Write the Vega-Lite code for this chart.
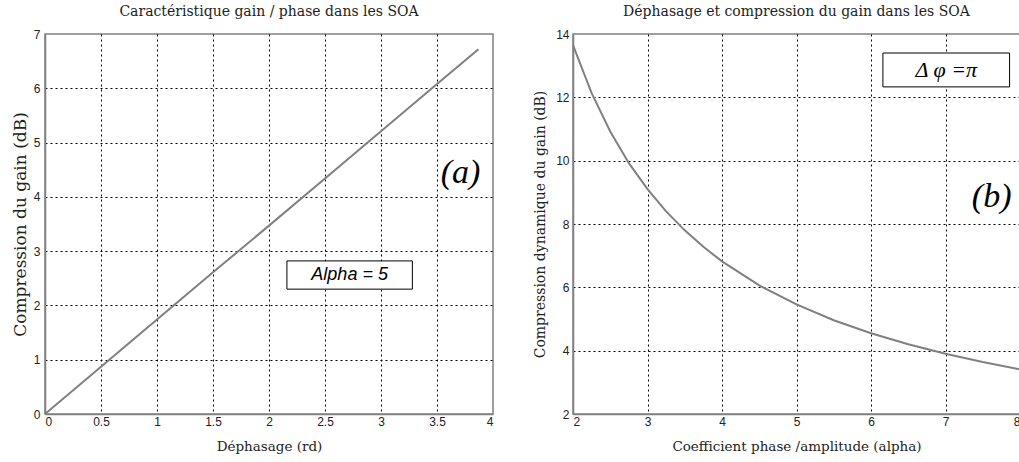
{
  "$schema": "https://vega.github.io/schema/vega-lite/v6.json",
  "background": "white",
  "padding": {"left": 10, "top": 4, "right": 0, "bottom": 0},
  "bounds": "flush",
  "spacing": 80,
  "config": {
    "view": {"stroke": "#808080", "strokeWidth": 1.5},
    "axis": {
      "grid": true,
      "gridColor": "#000000",
      "gridDash": [2, 3],
      "gridWidth": 1,
      "domainColor": "#808080",
      "domainWidth": 1.5,
      "ticks": false,
      "format": "~g",
      "labelFont": "Liberation Sans",
      "labelFontSize": 12,
      "labelColor": "#222222",
      "labelPadding": 4,
      "titleFont": "DejaVu Serif",
      "titleFontSize": 13.5,
      "titleFontWeight": "normal",
      "titleColor": "#222222"
    },
    "title": {"font": "DejaVu Serif", "fontSize": 14, "fontWeight": "normal", "color": "#222222", "offset": 9}
  },
  "datasets": {
    "gain": [
      {"phase": 0, "comp": 0},
      {"phase": 0.5, "comp": 0.87},
      {"phase": 1.0, "comp": 1.74},
      {"phase": 1.5, "comp": 2.61},
      {"phase": 2.0, "comp": 3.47},
      {"phase": 2.5, "comp": 4.34},
      {"phase": 3.0, "comp": 5.21},
      {"phase": 3.5, "comp": 6.08},
      {"phase": 3.87, "comp": 6.72}
    ],
    "alpha": [
      {"alpha": 2.0, "comp": 13.65},
      {"alpha": 2.25, "comp": 12.13},
      {"alpha": 2.5, "comp": 10.92},
      {"alpha": 2.75, "comp": 9.92},
      {"alpha": 3.0, "comp": 9.10},
      {"alpha": 3.25, "comp": 8.40},
      {"alpha": 3.5, "comp": 7.80},
      {"alpha": 3.75, "comp": 7.28},
      {"alpha": 4.0, "comp": 6.82},
      {"alpha": 4.5, "comp": 6.06},
      {"alpha": 5.0, "comp": 5.46},
      {"alpha": 5.5, "comp": 4.96},
      {"alpha": 6.0, "comp": 4.55},
      {"alpha": 6.5, "comp": 4.20},
      {"alpha": 7.0, "comp": 3.90},
      {"alpha": 7.5, "comp": 3.64},
      {"alpha": 8.0, "comp": 3.41}
    ]
  },
  "hconcat": [
    {
      "width": 448,
      "height": 380,
      "title": "Caractéristique gain / phase dans les SOA",
      "layer": [
        {
          "data": {"name": "gain"},
          "mark": {"type": "line", "color": "#808080", "strokeWidth": 2},
          "encoding": {
            "x": {"field": "phase", "type": "quantitative",
                  "scale": {"domain": [0, 4], "nice": false},
                  "axis": {"title": "Déphasage (rd)", "values": [0, 0.5, 1, 1.5, 2, 2.5, 3, 3.5, 4], "titlePadding": 12, "labelPadding": 2,
                           "gridOpacity": {"condition": {"test": "datum.value <= 0 || datum.value >= 4", "value": 0}, "value": 1}}},
            "y": {"field": "comp", "type": "quantitative",
                  "scale": {"domain": [0, 7], "nice": false},
                  "axis": {"title": "Compression du gain (dB)", "titleFontSize": 17, "values": [0, 1, 2, 3, 4, 5, 6, 7], "titlePadding": 4, "labelPadding": 5,
                           "gridOpacity": {"condition": {"test": "datum.value <= 0 || datum.value >= 7", "value": 0}, "value": 1}}}
          }
        },
        {
          "data": {"values": [{"x1": 2.16, "x2": 3.28, "y1": 2.30, "y2": 2.82}]},
          "mark": {"type": "rect", "fill": "white", "stroke": "black", "strokeWidth": 1},
          "encoding": {
            "x": {"field": "x1", "type": "quantitative"},
            "x2": {"field": "x2"},
            "y": {"field": "y1", "type": "quantitative"},
            "y2": {"field": "y2"}
          }
        },
        {
          "data": {"values": [{"x": 2.72, "y": 2.56, "label": "Alpha = 5"}]},
          "mark": {"type": "text", "font": "Liberation Sans", "fontStyle": "italic", "fontSize": 18, "color": "black", "baseline": "middle"},
          "encoding": {
            "x": {"field": "x", "type": "quantitative"},
            "y": {"field": "y", "type": "quantitative"},
            "text": {"field": "label"}
          }
        },
        {
          "data": {"values": [{"x": 3.71, "y": 4.44, "label": "(a)"}]},
          "mark": {"type": "text", "font": "Liberation Serif", "fontStyle": "italic", "fontSize": 34, "color": "black", "baseline": "middle"},
          "encoding": {
            "x": {"field": "x", "type": "quantitative"},
            "y": {"field": "y", "type": "quantitative"},
            "text": {"field": "label"}
          }
        }
      ]
    },
    {
      "width": 447,
      "height": 380,
      "title": "Déphasage et compression du gain dans les SOA",
      "layer": [
        {
          "data": {"name": "alpha"},
          "mark": {"type": "line", "color": "#808080", "strokeWidth": 2},
          "encoding": {
            "x": {"field": "alpha", "type": "quantitative",
                  "scale": {"domain": [2, 8], "nice": false},
                  "axis": {"title": "Coefficient phase /amplitude (alpha)", "values": [2, 3, 4, 5, 6, 7, 8], "titlePadding": 12, "labelPadding": 2,
                           "gridOpacity": {"condition": {"test": "datum.value <= 2 || datum.value >= 8", "value": 0}, "value": 1}}},
            "y": {"field": "comp", "type": "quantitative",
                  "scale": {"domain": [2, 14], "nice": false},
                  "axis": {"title": "Compression dynamique du gain (dB)", "titleFontSize": 14, "values": [2, 4, 6, 8, 10, 12, 14], "titlePadding": 8,
                           "gridOpacity": {"condition": {"test": "datum.value <= 2 || datum.value >= 14", "value": 0}, "value": 1}}}
          }
        },
        {
          "data": {"values": [{"x1": 6.16, "x2": 7.86, "y1": 12.33, "y2": 13.4}]},
          "mark": {"type": "rect", "fill": "white", "stroke": "black", "strokeWidth": 1},
          "encoding": {
            "x": {"field": "x1", "type": "quantitative"},
            "x2": {"field": "x2"},
            "y": {"field": "y1", "type": "quantitative"},
            "y2": {"field": "y2"}
          }
        },
        {
          "data": {"values": [{"x": 7.01, "y": 12.86, "label": "Δ φ =π"}]},
          "mark": {"type": "text", "font": "Liberation Serif", "fontStyle": "italic", "fontSize": 22, "color": "black", "baseline": "middle"},
          "encoding": {
            "x": {"field": "x", "type": "quantitative"},
            "y": {"field": "y", "type": "quantitative"},
            "text": {"field": "label"}
          }
        },
        {
          "data": {"values": [{"x": 7.62, "y": 8.86, "label": "(b)"}]},
          "mark": {"type": "text", "font": "Liberation Serif", "fontStyle": "italic", "fontSize": 34, "color": "black", "baseline": "middle"},
          "encoding": {
            "x": {"field": "x", "type": "quantitative"},
            "y": {"field": "y", "type": "quantitative"},
            "text": {"field": "label"}
          }
        }
      ]
    }
  ]
}
